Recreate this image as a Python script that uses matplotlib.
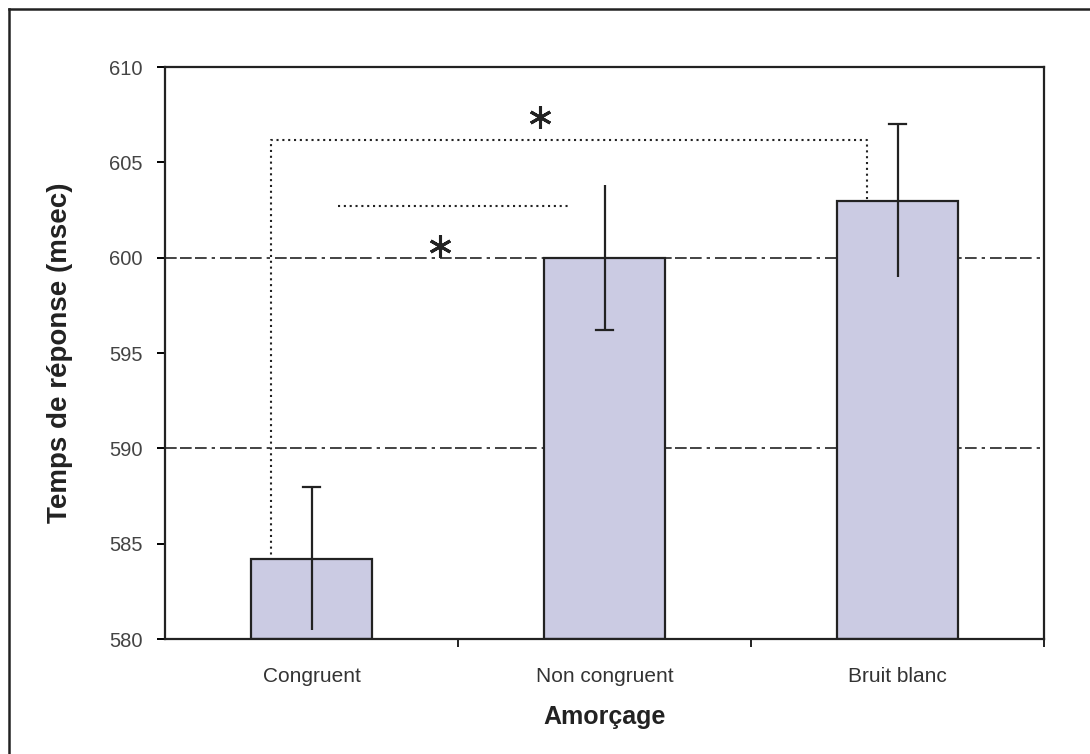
import numpy as np
import matplotlib.pyplot as plt
from matplotlib.lines import Line2D

plt.rcParams['font.family'] = ['Liberation Sans', 'DejaVu Sans']

categories = ["Congruent", "Non congruent", "Bruit blanc"]
means = [584.2, 600.0, 603.0]
errors = [3.75, 3.8, 4.0]
cap_top = [True, False, True]
cap_bottom = [False, True, False]
yticks = [580, 585, 590, 595, 600, 605, 610]
grid_levels = [590, 600]

# significance brackets (data coords)
big_bracket_x = [-0.14, -0.14, 1.895, 1.895]
big_bracket_y = [583.5, 606.2, 606.2, 603.0]
small_line_x = [0.09, 0.875]
small_line_y = [602.7, 602.7]
star_x = [0.78, 0.44]
star_y = [607.4, 600.6]

fig = plt.figure(figsize=(10.9, 7.54), dpi=100)
ax = fig.add_axes([0.1514, 0.1525, 0.8064, 0.7585])

x = np.arange(len(categories))
ax.bar(x, np.array(means) - 580, bottom=580, width=0.41, color="#cbcbe3",
       edgecolor="#222222", linewidth=1.6, zorder=2)

for level in grid_levels:
    ax.axhline(level, color="#222222", linewidth=1.2, dashes=(7, 2, 7, 2, 7, 3, 2, 3), zorder=1)

for xi, m, e, ct, cb in zip(x, means, errors, cap_top, cap_bottom):
    ax.vlines(xi, m - e, m + e, color="#222222", linewidth=1.6, zorder=3)
    if ct:
        ax.plot([xi - 0.03, xi + 0.03], [m + e, m + e], color="#222222", lw=1.6, zorder=3)
    if cb:
        ax.plot([xi - 0.03, xi + 0.03], [m - e, m - e], color="#222222", lw=1.6, zorder=3)

ax.plot(big_bracket_x, big_bracket_y, color="#222222", lw=1.5, linestyle=(0, (1, 1.8)), zorder=1)
ax.plot(small_line_x, small_line_y, color="#222222", lw=1.5, linestyle=(0, (1, 1.8)), zorder=1)
# six-armed asterisk with a vertical arm
ax.plot(star_x, star_y, linestyle="none", marker=(6, 2, 0), markersize=16,
        markeredgewidth=2.2, color="#222222", zorder=4)

ax.set_xlim(-0.5, 2.5)
ax.set_ylim(580, 610)
ax.set_yticks(yticks)
ax.set_xticks(x)
ax.set_xticklabels(categories)
ax.set_xticks([0.5, 1.5, 2.5], minor=True)
ax.tick_params(axis="x", which="major", length=0, pad=20, labelsize=15, labelcolor="#333333")
ax.tick_params(axis="x", which="minor", length=6, width=1.4, direction="out", color="#222222")
ax.tick_params(axis="y", length=6, width=1.4, direction="out", labelsize=14.5, labelcolor="#444444", pad=10)
for s in ax.spines.values():
    s.set_linewidth(1.6)
    s.set_color("#222222")

ax.set_xlabel("Amorçage", fontsize=18, fontweight="bold", labelpad=14, color="#222222")
ax.set_ylabel("Temps de réponse (msec)", fontsize=20, fontweight="bold", labelpad=26, color="#222222")

# outer frame (only left and top edges visible)
fig.add_artist(Line2D([9 / 1090, 9 / 1090], [0, 1 - 9 / 754], color="#222222", lw=1.8))
fig.add_artist(Line2D([9 / 1090, 1], [1 - 9 / 754, 1 - 9 / 754], color="#222222", lw=1.8))

fig.savefig("out.png", dpi=100)
